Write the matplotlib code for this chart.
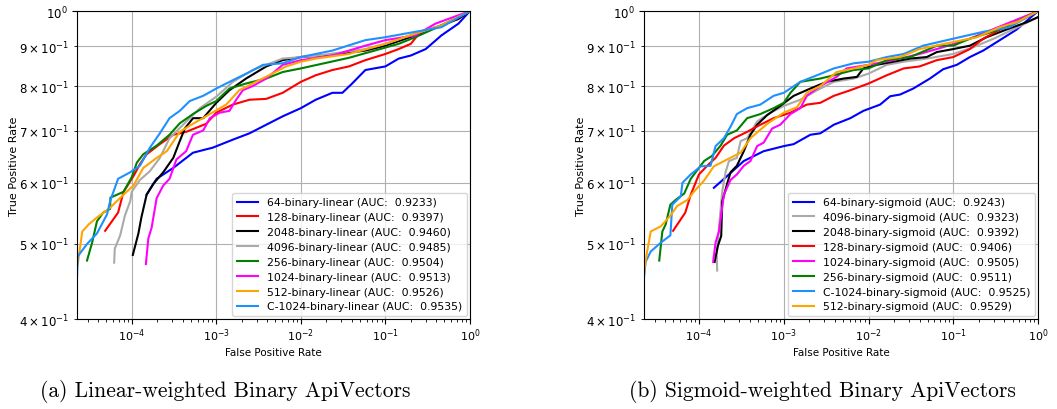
import matplotlib.pyplot as plt

# ---- (a) linear-weighted curves: false positive rate / true positive rate ----
lin_64_fpr = [1.5e-4, 1.97e-4, 3.1e-4, 5.3e-4, 9.1e-4, 1.57e-3, 2.47e-3, 3.9e-3, 6.1e-3, 0.01, 0.015, 0.0236, 0.031, 0.04, 0.058, 0.1, 0.1435, 0.2, 0.3, 0.46, 0.73, 1.0]
lin_64_tpr = [0.579, 0.607, 0.627, 0.656, 0.666, 0.682, 0.695, 0.713, 0.731, 0.749, 0.768, 0.784, 0.784, 0.805, 0.839, 0.848, 0.868, 0.876, 0.893, 0.930, 0.963, 1.0]

lin_128_fpr = [4.85e-5, 6.9e-5, 8.0e-5, 1.05e-4, 1.25e-4, 1.5e-4, 2.15e-4, 3.1e-4, 4.4e-4, 7.6e-4, 1e-3, 1.57e-3, 2.47e-3, 3.9e-3, 6.1e-3, 0.01, 0.015, 0.0236, 0.037, 0.058, 0.1, 0.1435, 0.2, 0.26, 0.46, 0.73, 1.0]
lin_128_tpr = [0.52, 0.549, 0.584, 0.612, 0.634, 0.653, 0.673, 0.692, 0.698, 0.715, 0.739, 0.757, 0.768, 0.77, 0.784, 0.81, 0.826, 0.839, 0.848, 0.864, 0.88, 0.893, 0.907, 0.94, 0.958, 0.977, 1.0]

lin_2048_fpr = [1.03e-4, 1.2e-4, 1.3e-4, 1.5e-4, 1.8e-4, 2.36e-4, 3.1e-4, 3.7e-4, 4.25e-4, 5.3e-4, 7e-4, 1e-3, 1.43e-3, 2.25e-3, 3.9e-3, 6.1e-3, 0.01, 0.0236, 0.058, 0.1, 0.2255, 0.46, 0.73, 1.0]
lin_2048_tpr = [0.484, 0.516, 0.541, 0.579, 0.598, 0.619, 0.646, 0.679, 0.705, 0.727, 0.727, 0.761, 0.79, 0.818, 0.848, 0.864, 0.872, 0.878, 0.889, 0.902, 0.93, 0.958, 0.977, 1.0]

lin_4096_fpr = [6.2e-5, 6.3e-5, 7.3e-5, 8.3e-5, 9.6e-5, 1e-4, 1.25e-4, 1.64e-4, 2.15e-4, 2.8e-4, 4.05e-4, 6.4e-4, 1e-3, 1.57e-3, 2.7e-3, 3.9e-3, 6.1e-3, 0.01, 0.015, 0.0236, 0.058, 0.1, 0.2255, 0.46, 1.0]
lin_4096_tpr = [0.473, 0.493, 0.513, 0.544, 0.568, 0.584, 0.605, 0.621, 0.646, 0.685, 0.713, 0.749, 0.775, 0.81, 0.839, 0.852, 0.868, 0.872, 0.875, 0.881, 0.893, 0.907, 0.935, 0.958, 1.0]

lin_256_fpr = [2.96e-5, 3.4e-5, 3.88e-5, 4.6e-5, 5.55e-5, 5.6e-5, 8e-5, 1e-4, 1.15e-4, 1.37e-4, 1.97e-4, 2.8e-4, 3.7e-4, 5.3e-4, 7.6e-4, 1e-3, 1.43e-3, 2.25e-3, 3.9e-3, 6.1e-3, 0.01, 0.037, 0.1435, 0.2255, 0.46, 1.0]
lin_256_tpr = [0.476, 0.502, 0.535, 0.549, 0.555, 0.574, 0.584, 0.61, 0.637, 0.653, 0.67, 0.692, 0.716, 0.736, 0.754, 0.765, 0.794, 0.806, 0.818, 0.834, 0.843, 0.87, 0.907, 0.925, 0.958, 1.0]

lin_1024_fpr = [1.47e-4, 1.57e-4, 1.72e-4, 1.97e-4, 2.36e-4, 2.8e-4, 3.38e-4, 4.4e-4, 5.3e-4, 7e-4, 8.4e-4, 1.1e-3, 1.43e-3, 1.72e-3, 2.06e-3, 2.7e-3, 3.9e-3, 6.1e-3, 0.01, 0.0236, 0.058, 0.1, 0.2255, 0.39, 1.0]
lin_1024_tpr = [0.471, 0.508, 0.525, 0.573, 0.595, 0.607, 0.643, 0.659, 0.692, 0.701, 0.727, 0.739, 0.743, 0.768, 0.79, 0.8, 0.818, 0.852, 0.864, 0.876, 0.902, 0.917, 0.93, 0.963, 1.0]

lin_512_fpr = [2.3e-5, 2.6e-5, 3.1e-5, 3.88e-5, 5.55e-5, 8e-5, 1.05e-4, 1.37e-4, 1.97e-4, 2.6e-4, 3.7e-4, 5.3e-4, 8.4e-4, 1.31e-3, 1.87e-3, 2.7e-3, 4.2e-3, 6.7e-3, 0.01, 0.015, 0.037, 0.1, 0.2255, 0.46, 1.0]
lin_512_tpr = [0.471, 0.519, 0.53, 0.541, 0.557, 0.579, 0.595, 0.627, 0.646, 0.659, 0.698, 0.715, 0.736, 0.757, 0.79, 0.806, 0.826, 0.848, 0.86, 0.868, 0.88, 0.907, 0.935, 0.958, 1.0]

lin_c1024_fpr = [2.25e-5, 2.3e-5, 2.96e-5, 3.88e-5, 5.1e-5, 5.55e-5, 6.9e-5, 9.6e-5, 1.25e-4, 1.64e-4, 2.15e-4, 2.8e-4, 3.7e-4, 4.85e-4, 7e-4, 1e-3, 1.57e-3, 2.47e-3, 3.56e-3, 6.1e-3, 0.01, 0.0236, 0.058, 0.1, 0.2255, 0.46, 1.0]
lin_c1024_tpr = [0.449, 0.482, 0.5, 0.516, 0.546, 0.568, 0.607, 0.619, 0.631, 0.666, 0.695, 0.727, 0.743, 0.765, 0.777, 0.794, 0.814, 0.834, 0.852, 0.856, 0.872, 0.889, 0.917, 0.925, 0.94, 0.953, 1.0]

# ---- (b) sigmoid-weighted curves ----
sig_64_fpr = [1.5e-4, 2.15e-4, 3.38e-4, 5.8e-4, 1e-3, 1.31e-3, 2.06e-3, 2.7e-3, 3.9e-3, 6.1e-3, 8.7e-3, 0.0137, 0.018, 0.0236, 0.0337, 0.053, 0.076, 0.11, 0.157, 0.2255, 0.354, 0.556, 1.0]
sig_64_tpr = [0.591, 0.612, 0.64, 0.659, 0.669, 0.673, 0.692, 0.695, 0.713, 0.727, 0.743, 0.757, 0.776, 0.78, 0.794, 0.818, 0.841, 0.852, 0.872, 0.889, 0.917, 0.946, 1.0]

sig_4096_fpr = [1.64e-4, 1.62e-4, 1.72e-4, 1.88e-4, 2.06e-4, 2.26e-4, 2.8e-4, 3.1e-4, 3.7e-4, 4.85e-4, 7e-4, 1e-3, 1.57e-3, 2.47e-3, 3.9e-3, 6.7e-3, 0.01, 0.0164, 0.026, 0.0486, 0.1, 0.172, 0.3, 0.5, 1.0]
sig_4096_tpr = [0.462, 0.484, 0.524, 0.584, 0.619, 0.64, 0.646, 0.679, 0.685, 0.72, 0.739, 0.754, 0.768, 0.79, 0.81, 0.818, 0.83, 0.852, 0.86, 0.868, 0.88, 0.898, 0.921, 0.946, 0.982]

sig_2048_fpr = [1.53e-4, 1.67e-4, 1.83e-4, 1.88e-4, 2.15e-4, 2.36e-4, 2.8e-4, 3.38e-4, 4.05e-4, 4.85e-4, 6.4e-4, 9.1e-4, 1.31e-3, 2.06e-3, 3.2e-3, 5.1e-3, 7.3e-3, 8.7e-3, 0.0125, 0.0197, 0.031, 0.0486, 0.064, 0.1, 0.157, 0.247, 0.42, 0.73, 1.0]
sig_2048_tpr = [0.474, 0.497, 0.512, 0.567, 0.598, 0.619, 0.631, 0.659, 0.692, 0.713, 0.734, 0.754, 0.777, 0.794, 0.81, 0.818, 0.822, 0.843, 0.852, 0.86, 0.868, 0.872, 0.885, 0.893, 0.902, 0.925, 0.946, 0.967, 0.982]

sig_128_fpr = [4.95e-5, 6.9e-5, 8e-5, 1e-4, 1.25e-4, 1.57e-4, 1.97e-4, 2.6e-4, 3.7e-4, 5.3e-4, 7.6e-4, 1.2e-3, 1.87e-3, 2.7e-3, 3.9e-3, 6.1e-3, 0.01, 0.0164, 0.026, 0.04, 0.064, 0.1, 0.157, 0.2255, 0.354, 0.556, 1.0]
sig_128_tpr = [0.52, 0.549, 0.579, 0.615, 0.631, 0.646, 0.67, 0.685, 0.698, 0.713, 0.727, 0.739, 0.757, 0.761, 0.777, 0.79, 0.806, 0.826, 0.843, 0.848, 0.864, 0.872, 0.893, 0.921, 0.946, 0.967, 1.0]

sig_1024_fpr = [1.47e-4, 1.57e-4, 1.72e-4, 1.97e-4, 2.36e-4, 2.8e-4, 3.38e-4, 4.05e-4, 4.85e-4, 5.8e-4, 7.3e-4, 9.1e-4, 1.2e-3, 1.57e-3, 1.87e-3, 2.7e-3, 4.2e-3, 5.5e-3, 0.01, 0.0197, 0.04, 0.076, 0.157, 0.3, 1.0]
sig_1024_tpr = [0.474, 0.502, 0.519, 0.579, 0.605, 0.615, 0.631, 0.64, 0.669, 0.676, 0.705, 0.713, 0.736, 0.749, 0.777, 0.8, 0.822, 0.843, 0.852, 0.864, 0.88, 0.898, 0.921, 0.948, 1.0]

sig_256_fpr = [3.4e-5, 3.7e-5, 4.05e-5, 4.6e-5, 5.3e-5, 6.7e-5, 8e-5, 1e-4, 1.15e-4, 1.43e-4, 1.8e-4, 2.15e-4, 2.8e-4, 3.7e-4, 5.3e-4, 7.6e-4, 1e-3, 1.2e-3, 1.57e-3, 2.7e-3, 3.9e-3, 6.7e-3, 0.01, 0.0164, 0.031, 0.064, 0.1, 0.157, 0.247, 0.42, 1.0]
sig_256_tpr = [0.476, 0.519, 0.53, 0.562, 0.57, 0.581, 0.607, 0.627, 0.64, 0.65, 0.67, 0.692, 0.701, 0.727, 0.736, 0.749, 0.761, 0.784, 0.81, 0.818, 0.826, 0.839, 0.843, 0.864, 0.872, 0.902, 0.902, 0.921, 0.935, 0.953, 1.0]

sig_c1024_fpr = [2.25e-5, 2.35e-5, 2.7e-5, 3.55e-5, 4.6e-5, 4.85e-5, 6.1e-5, 6.4e-5, 8e-5, 1.05e-4, 1.37e-4, 1.57e-4, 1.97e-4, 2.36e-4, 2.8e-4, 3.7e-4, 5.3e-4, 7.6e-4, 1e-3, 1.57e-3, 2.47e-3, 3.9e-3, 6.7e-3, 0.01, 0.0164, 0.026, 0.044, 0.1, 0.2255, 0.46, 1.0]
sig_c1024_tpr = [0.453, 0.474, 0.489, 0.502, 0.513, 0.562, 0.576, 0.6, 0.615, 0.63, 0.631, 0.669, 0.685, 0.709, 0.736, 0.749, 0.757, 0.777, 0.784, 0.81, 0.826, 0.843, 0.856, 0.86, 0.872, 0.88, 0.902, 0.921, 0.94, 0.953, 1.0]

sig_512_fpr = [2.25e-5, 2.45e-5, 2.7e-5, 3.55e-5, 4.6e-5, 5.55e-5, 7.3e-5, 8.7e-5, 1.15e-4, 1.5e-4, 2.15e-4, 3.1e-4, 4.05e-4, 6.4e-4, 1e-3, 1.43e-3, 1.87e-3, 2.7e-3, 4.2e-3, 6.7e-3, 0.01, 0.0125, 0.0236, 0.04, 0.1, 0.19, 0.354, 0.556, 1.0]
sig_512_tpr = [0.46, 0.489, 0.519, 0.527, 0.544, 0.56, 0.57, 0.584, 0.604, 0.63, 0.643, 0.656, 0.685, 0.715, 0.739, 0.751, 0.784, 0.8, 0.834, 0.843, 0.852, 0.864, 0.872, 0.893, 0.912, 0.925, 0.953, 0.967, 1.0]

lin_labels = ['64-binary-linear (AUC:  0.9233)', '128-binary-linear (AUC:  0.9397)',
              '2048-binary-linear (AUC:  0.9460)', '4096-binary-linear (AUC:  0.9485)',
              '256-binary-linear (AUC:  0.9504)', '1024-binary-linear (AUC:  0.9513)',
              '512-binary-linear (AUC:  0.9526)', 'C-1024-binary-linear (AUC:  0.9535)']
sig_labels = ['64-binary-sigmoid (AUC:  0.9243)', '4096-binary-sigmoid (AUC:  0.9323)',
              '2048-binary-sigmoid (AUC:  0.9392)', '128-binary-sigmoid (AUC:  0.9406)',
              '1024-binary-sigmoid (AUC:  0.9505)', '256-binary-sigmoid (AUC:  0.9511)',
              'C-1024-binary-sigmoid (AUC:  0.9525)', '512-binary-sigmoid (AUC:  0.9529)']

lin_curves = [(lin_64_fpr, lin_64_tpr), (lin_128_fpr, lin_128_tpr), (lin_2048_fpr, lin_2048_tpr),
              (lin_4096_fpr, lin_4096_tpr), (lin_256_fpr, lin_256_tpr), (lin_1024_fpr, lin_1024_tpr),
              (lin_512_fpr, lin_512_tpr), (lin_c1024_fpr, lin_c1024_tpr)]
sig_curves = [(sig_64_fpr, sig_64_tpr), (sig_4096_fpr, sig_4096_tpr), (sig_2048_fpr, sig_2048_tpr),
              (sig_128_fpr, sig_128_tpr), (sig_1024_fpr, sig_1024_tpr), (sig_256_fpr, sig_256_tpr),
              (sig_c1024_fpr, sig_c1024_tpr), (sig_512_fpr, sig_512_tpr)]

lin_colors = ['#0000ff', '#ff0000', '#000000', '#aaaaaa', '#008000', '#ff00ff', '#ffa500', '#1e90ff']
sig_colors = ['#0000ff', '#aaaaaa', '#000000', '#ff0000', '#ff00ff', '#008000', '#1e90ff', '#ffa500']

captions = ['(a) Linear-weighted Binary ApiVectors', '(b) Sigmoid-weighted Binary ApiVectors']
caption_x = [0.213, 0.778]

fig = plt.figure(figsize=(10.57, 4.1), dpi=100)
ax1 = fig.add_axes([0.0728, 0.2195, 0.3718, 0.7512])
ax2 = fig.add_axes([0.6093, 0.2195, 0.3728, 0.7512])

panels = [(ax1, lin_curves, lin_labels, lin_colors), (ax2, sig_curves, sig_labels, sig_colors)]
for i, (ax, curves, labels, colors) in enumerate(panels):
    for (f, t), lab, c in zip(curves, labels, colors):
        ax.plot(f, t, color=c, lw=1.5, label=lab)
    ax.set_xscale('log')
    ax.set_yscale('log')
    ax.set_xlim(2.25e-5, 1)
    ax.set_ylim(0.4, 1)
    ax.grid(True, which='major', color='#b0b0b0', lw=0.8)
    ax.grid(True, which='minor', axis='y', color='#b0b0b0', lw=0.8)
    ax.tick_params(axis='y', which='both', labelsize=8.5)
    ax.tick_params(axis='x', which='both', labelsize=8, pad=2)
    ax.set_xlabel('False Positive Rate', fontsize=7.5, labelpad=3)
    ax.set_ylabel('True Positive Rate', fontsize=8, labelpad=0)
    ax.legend(loc='lower right', fontsize=7.8, labelspacing=0.45, borderaxespad=0.3)
    fig.text(caption_x[i], 0.045, captions[i], ha='center', va='center',
             fontsize=15.5, family='cmr10')

fig.savefig('out.png', dpi=100)
